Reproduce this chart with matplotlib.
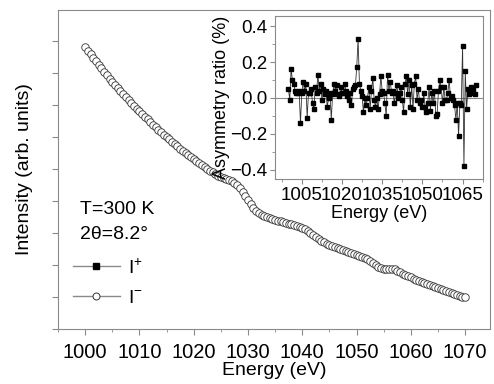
import numpy as np
import matplotlib
matplotlib.use("Agg")
from matplotlib import pyplot as plt
from matplotlib.lines import Line2D
from matplotlib.ticker import MultipleLocator, NullFormatter

plt.rcParams['font.family'] = ['Liberation Sans', 'DejaVu Sans']
plt.rcParams['mathtext.fontset'] = 'custom'
plt.rcParams['mathtext.rm'] = 'Liberation Sans'

# energy grid, 0.5 eV steps
energy = np.arange(1000, 1070.5, 0.5)

# I- intensity (arb. units)
intensity = [
    282, 278, 275, 271, 268, 264, 261, 257, 254, 250,
    247, 244, 241, 238, 235, 232, 229, 226, 223, 220,
    218, 215, 212, 210, 207, 204, 202, 199, 197, 194,
    192, 190, 187, 185, 183, 180, 178, 176, 174, 172,
    170, 168, 166, 164, 162, 160, 158, 157, 155, 153,
    152, 151, 150, 149, 148, 146, 144, 141, 137, 133,
    129, 125, 121, 118, 116, 114, 113, 112, 111, 110,
    109, 108, 108, 107, 106, 105, 105, 104, 103, 102,
    101, 100, 98, 96, 94, 92, 90, 88, 87, 85,
    84, 83, 82, 81, 80, 79, 78, 77, 76, 75,
    74, 73, 72, 71, 70, 68, 66, 64, 62, 61,
    60, 60, 60, 60, 60, 58, 57, 55, 54, 53,
    52, 50, 49, 48, 47, 46, 45, 44, 43, 42,
    41, 40, 39, 38, 37, 36, 35, 34, 33, 32.5,
    32,
]

# asymmetry ratio (%) for the inset
asym = [
    0.05, -0.01, 0.16, 0.10, 0.08, 0.04, 0.03, 0.03, 0.04, -0.14,
    0.03, 0.09, 0.04, 0.08, -0.11, 0.03, 0.03, 0.05, -0.03, -0.06,
    0.06, 0.03, 0.13, 0.04, 0.08, -0.01, 0.05, 0.02, 0.04, -0.05,
    0.00, 0.03, -0.12, 0.02, 0.08, 0.04, 0.07, 0.02, 0.01, 0.06,
    0.03, 0.03, 0.08, 0.04, 0.01, -0.01, 0.03, -0.04, 0.05, 0.06,
    0.07, 0.17, 0.33, 0.08, 0.04, 0.01, -0.08, 0.00, -0.04, 0.00,
    0.06, -0.06, 0.04, 0.11, -0.01, -0.05, 0.00, -0.06, 0.02, 0.12,
    0.04, 0.03, -0.03, -0.10, 0.13, 0.04, 0.09, 0.03, 0.04, -0.03,
    0.03, 0.07, 0.00, 0.03, 0.06, -0.01, -0.08, 0.08, 0.12, 0.02,
    0.10, -0.05, 0.07, -0.06, 0.08, 0.12, -0.01, 0.05, -0.03, -0.01,
    -0.05, 0.03, -0.05, -0.08, -0.03, 0.06, -0.07, 0.03, -0.03, 0.04,
    -0.10, -0.09, 0.04, 0.10, 0.06, -0.03, 0.06, -0.01, -0.01, 0.03,
    0.10, 0.00, 0.01, -0.01, -0.04, -0.12, -0.03, -0.21, -0.03, -0.04,
    0.29, -0.38, 0.15, -0.06, 0.05, 0.02, 0.06, 0.03, 0.05, 0.02,
    0.07,
]

frame = '#8a8a8a'

fig = plt.figure(figsize=(4.94, 3.84), dpi=100)
ax = fig.add_axes([0.1174, 0.1432, 0.8746, 0.8308])

ax.plot(energy, intensity, 'o', ms=5.4, mfc='white', mec='#333333', mew=0.6)
ax.set_xlim(995, 1074.6)
ax.set_ylim(0, 319)
ax.xaxis.set_major_locator(MultipleLocator(10))
ax.xaxis.set_minor_locator(MultipleLocator(5))
ax.yaxis.set_major_locator(MultipleLocator(32))
ax.yaxis.set_major_formatter(NullFormatter())
for s in ax.spines.values():
    s.set_color(frame)
ax.tick_params(which='both', colors=frame, labelcolor='black', labelsize=14.5)
ax.tick_params(which='major', length=4, pad=6)
ax.tick_params(which='minor', length=2.5)
ax.set_xlabel('Energy (eV)', fontsize=14, labelpad=0)
ax.set_ylabel('Intensity (arb. units)', fontsize=14, labelpad=8)

ax.text(0.05, 0.375, 'T=300 K', transform=ax.transAxes, fontsize=14, va='center')
ax.text(0.05, 0.295, '2\u03b8=8.2\u00b0', transform=ax.transAxes, fontsize=14, va='center')

handles = [
    Line2D([], [], color=frame, lw=1, marker='s', ms=4.5, mfc='black', mec='black'),
    Line2D([], [], color=frame, lw=1, marker='o', ms=5, mfc='white', mec='#333333', mew=0.7),
]
ax.legend(handles, ['I$^{+}$', 'I$^{-}$'], loc='upper left', bbox_to_anchor=(0.035, 0.225),
          frameon=False, fontsize=14, handlelength=2.4, handletextpad=0.4,
          labelspacing=0.6, borderaxespad=0, borderpad=0)

# inset
ins = fig.add_axes([0.5567, 0.534, 0.4204, 0.424])
ins.axhline(0, color=frame, lw=0.8, zorder=1)
ins.plot(energy, asym, '-', color='#333333', lw=0.6, marker='s', ms=2.8,
         mfc='black', mec='black', zorder=2)
ins.set_xlim(995, 1072.5)
ins.set_ylim(-0.45, 0.455)
ins.xaxis.set_minor_locator(MultipleLocator(7.5))
ins.set_xticks([1005, 1020, 1035, 1050, 1065])
ins.yaxis.set_minor_locator(MultipleLocator(0.1))
ins.set_yticks([-0.4, -0.2, 0.0, 0.2, 0.4])
for s in ins.spines.values():
    s.set_color(frame)
ins.tick_params(which='both', colors=frame, labelcolor='black', labelsize=13.5, pad=2)
ins.tick_params(which='major', length=3.5)
ins.tick_params(which='minor', length=2)
ins.set_xlabel('Energy (eV)', fontsize=13, labelpad=1)
ins.set_ylabel('Asymmetry ratio (%)', fontsize=13, labelpad=0)

fig.savefig('out.png', dpi=100)
